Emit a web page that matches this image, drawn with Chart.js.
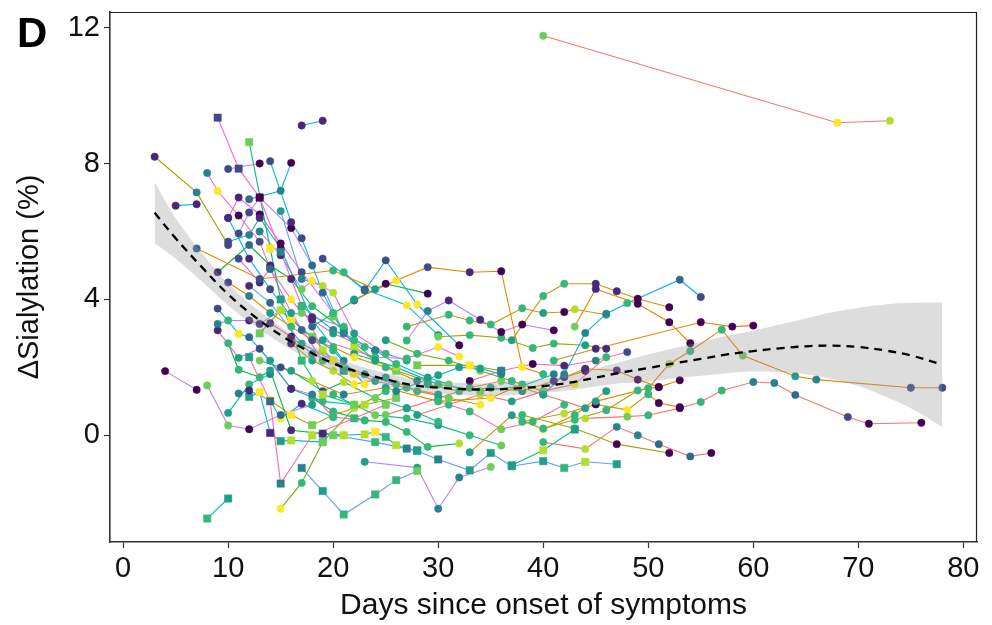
<!DOCTYPE html>
<html><head><meta charset="utf-8">
<script src="https://cdn.jsdelivr.net/npm/chart.js@4.4.1/dist/chart.umd.min.js"></script>
<style>html,body{margin:0;padding:0;background:#fff;}#wrap{width:992px;height:625px;}</style>
</head><body><div id="wrap"><canvas id="c" width="992" height="625"></canvas></div>
<script>
// ---------- DATA ----------
const xTicks = [0, 10, 20, 30, 40, 50, 60, 70, 80];
const yTicks = [0, 4, 8, 12];
const xTitle = 'Days since onset of symptoms';
const yTitle = 'ΔSialylation (%)';
const panelLabel = 'D';

const patientDays = [
[40,68,73],[17,19],[3,7,10],[5,7],[7,13,20,24],
[9,11,13,15,17,19,21],[12,14,15,17,19,22],[14,16,17,19,21,24],[12,15,16],[8,9,11,13,14,16,19],
[10,13],[4,7],[8,10,12,15,18],[8,10],[12,14,15,18,22,25],
[17,19,21,24,26,28],[23,28,30,32,35],[15,17,19,22,25],[20,24,28,30,33,35,37,40,42,44,47],[44,48,50,53,55,57,60,62,64,69,71,76],
[45,50,52,54,57,59,64,66,75,78],[41,45,55,58,60],[40,42,44,46,48,53,55],[37,40,42,45,47,49,52],[43,45,49,52,54],
[22,26,29,33,36,38,40],[21,23,25,28,32],[27,29,31,34,36,38,41],[27,31,33,35,38,40,42,43,46],[30,33,36,39,41,44,46],
[40,44,47,49,51,54,56],[38,43,47,52],[42,44,47,49,51,53],[38,42,45,48,50,51,53],[40,43,46,49,51],
[37,40,43],[18,22,25,29],[19,23,27,30],[19,24,27,30,32],[28,33,36],
[26,30,32,34,36],[33,37,40,43,46],[30,33,36,39,42],[9,11,12,14,16,19,22],[9,10,12,13,15,18,21],
[9,11,13,16,18,20,23],[10,11,13,14,16,19,21],[11,12,14,15,17,20],[12,13,14,15,16,19],[10,12,14,17,20,23],
[10,12,13,15,18,21],[11,13,14,16,17,20,23],[13,15,17,18,20,22,25],[15,17,19,21,24,27],[10,12,14,16,18,20,22,25,28],
[14,16,18,21,24,27,30],[16,18,20,22,25,28,31,34],[13,16,19,21,24,27,30],[18,20,23,25,27,29,32],[19,21,23,24,25,26,27,28],
[17,20,22,24,26,29,31],[12,14,17,20,23,26],[15,18,21,25,30,35,38],[25,28,31,34,37,40],[22,26,30,34,38,41],
[29,32,35,38,41,44],[28,31,34,37,40,43,46],[10,12,14],[33,36,39,42,45,48],[10,11,13,15,17,20],
[11,12,13,16,18],[9,12,14,16,18,21],[13,15,16,18,20,22],[20,21,22,24,26,29],[14,16,18,20,23,26],
[20,22,24,27,30,33,36],[25,27,30,33,36,40,44]
];
const patientSialylation = [
[11.76,9.2,9.26],[9.12,9.26],[8.2,7.15,5.6],[6.76,6.8],[5.5,4.6,4.85,4.3],
[9.35,7.85,7.0,5.4,3.8,2.5,1.9],[8.63,5.5,4.0,2.2,1.2,0.9],[8.07,6.27,5.8,4.2,3.0,2.2],[6.95,7.2,8.02],[7.72,7.19,6.47,5.7,4.9,3.6,2.2],
[7.84,8.0],[1.89,1.34],[1.47,0.29,0.18,0.6,0.9],[-2.45,-1.86],[2.3,1.0,-1.42,0.0,0.5,0.9],
[-0.96,-1.64,-2.33,-1.74,-1.32,-1.05],[-0.78,-0.95,-2.16,-1.24,-0.93],[-2.16,-1.4,-0.2,0.8,1.3],[0.0,-0.2,-0.46,-0.71,-1.03,-0.52,-0.91,-0.76,-0.96,-0.78,-0.85],[0.5,0.55,0.59,0.8,0.98,1.32,1.57,1.54,1.19,0.54,0.34,0.37],
[1.0,1.39,2.1,2.48,3.11,2.35,1.74,1.64,1.4,1.4],[2.2,2.55,3.33,3.2,3.23],[1.2,1.8,3.01,3.58,3.89,4.58,4.07],[2.8,4.1,4.46,4.46,4.24,4.02,3.77],[3.2,4.31,3.87,3.33,2.71],
[4.0,4.56,4.95,4.8,4.83,2.01,1.8],[4.8,4.26,5.15,3.85,2.65],[2.79,3.66,3.97,3.4,3.04,3.26,3.09],[3.2,3.55,3.38,3.26,3.74,3.6,3.63,3.71,3.55],[2.9,2.95,2.87,2.57,2.7,2.65,2.55],
[-0.2,-0.4,0.25,0.0,-0.26,-0.62,-0.52],[0.6,0.2,-0.26,-0.52],[1.71,1.96,1.91,1.64,1.42,1.62],[0.4,0.64,0.91,0.75,1.21,0.95,0.83],[0.2,0.46,0.74,1.32,1.42],
[-0.88,-0.44,0.17],[3.2,3.97,4.46,4.17],[5.2,4.3,3.83,2.95],[2.8,2.3,2.26,2.6,2.32],[2.06,2.06,1.9],
[1.3,1.77,2.0,1.97,1.8],[-0.5,0.59,0.17,0.6,1.3],[1.0,0.7,0.18,0.4,0.9],[3.73,2.99,2.89,2.2,1.37,1.0,0.9],[3.28,3.38,3.38,3.28,3.68,3.48,3.2],
[3.09,2.28,2.55,1.37,1.2,0.54,0.44],[2.71,1.93,1.71,1.91,0.15,0.05,0.0],[1.23,1.32,1.03,0.49,0.93,0.54],[1.13,1.27,0.07,-0.17,-0.15,-0.2],[6.4,5.2,4.3,3.1,2.5,1.5],
[5.7,5.9,6.4,5.5,3.4,2.2],[5.2,4.5,4.9,4.0,3.6,3.0,2.6],[6.0,5.3,4.3,4.55,4.2,3.0,2.4],[6.6,4.6,4.4,3.0,2.5,2.2],[4.5,4.1,3.6,3.2,2.8,2.6,2.3,2.0,1.6],
[3.3,2.9,2.4,2.0,1.6,1.4,1.2],[2.7,2.2,1.9,1.5,1.7,1.3,1.1,0.9],[2.2,1.9,1.3,1.57,1.1,0.8,0.4],[1.1,0.7,0.44,0.39,0.1,-0.34,-0.24],[0.05,0.0,0.03,0.1,-0.05,-0.29,-0.39,-0.44],
[3.8,3.1,2.8,2.5,2.1,1.7,1.5],[4.4,3.9,2.7,2.2,1.8,1.5],[2.0,1.6,1.2,1.4,1.0,1.1,1.5],[2.8,2.4,2.2,1.9,1.6,1.3],[2.4,2.0,1.5,1.3,1.45,1.8],
[1.5,1.3,1.4,1.3,1.6,1.9],[0.6,0.9,1.2,1.0,1.3,1.5,2.3],[0.66,1.5,1.8],[1.6,1.9,2.1,2.05,2.2,2.45],[6.4,7.0,6.5,5.65,4.8,3.6],
[5.94,6.56,7.0,6.1,5.0],[4.8,5.6,5.0,4.6,3.8,3.1],[3.0,3.68,3.4,2.9,2.2,1.8],[3.5,3.1,2.6,2.2,1.9,1.6],[1.03,0.6,0.3,0.6,0.9,1.1],
[1.2,0.9,0.6,0.5,0.3,0.0,-0.3],[0.6,0.8,1.1,1.4,1.6,1.2,0.8]
];
// mapped colour level of each measurement (0 = low ... 9 = high)
const patientLevel = [
[7,9,8],[1,1],[1,4,2],[1,1],[3,2,6,5],
[2,2,0,4,6,8,5],[7,9,5,6,8,7],[2,1,2,3,4,5],[3,4,0],[4,9,0,2,3,5,6],
[2,0],[0,0],[7,7,0,3,5],[6,5],[5,3,4,8,6,7],
[4,5,6,6,6,7],[5,5,4,4,7],[9,6,7,8,6],[7,6,5,4,5,5,5,5,6,8,5],[8,7,6,0,6,6,4,4,3,2,0,0],
[5,6,8,6,6,7,5,4,2,2],[6,1,0,0,0],[5,4,4,4,6,3,2],[5,6,6,1,1,0,0],[7,1,0,0,0],
[5,9,2,1,0,9,6],[6,3,2,9,0],[6,4,1,1,0,0,0],[6,6,6,6,6,5,0,8,6],[7,6,6,6,6,5,1],
[6,8,4,4,3,3,0],[6,5,0,0],[1,1,1,0,0,0],[6,8,0,9,6,0,0],[6,6,6,6,0],
[5,8,5],[3,3,0,0],[2,3,9,4],[5,6,6,9,9],[7,9,4],
[4,5,5,5,4],[5,5,9,6,5],[6,6,7,6,6],[2,9,3,5,1,6,6],[4,6,1,1,8,1,6],
[1,5,2,1,4,6,6],[6,6,6,5,1,1,8],[4,1,9,9,1,6],[5,9,1,5,8,6],[1,1,2,3,6,9],
[2,4,1,0,1,4],[2,1,1,9,7,5,6],[4,1,7,9,8,5,6],[5,4,8,6,4,5],[2,4,5,6,2,6,9,6,4],
[1,0,5,7,5,6,5],[0,5,8,9,5,6,7,9],[7,5,2,8,7,5,6],[6,6,6,6,6,6,8],[3,8,8,9,6,8,4,5],
[1,4,6,3,6,5,7],[1,3,5,9,5,6],[2,8,4,5,6,9,6],[5,6,6,7,6,7],[5,8,6,7,9,4],
[5,6,5,4,1,0],[5,6,8,5,4,9,6],[5,6,4],[0,2,0,1,4,2],[1,1,0,0,2,6],
[2,2,0,0,3],[1,3,1,1,6,4],[7,8,9,7,8,9],[7,6,8,8,7,6],[9,9,7,8,8,7],
[6,6,7,6,5,6,7],[7,6,5,6,7,4,5]
];
// marker group of each patient (1 = square group)
const patientGroup = [
0,0,0,0,0, 1,1,0,0,0, 0,0,0,1,1, 1,0,0,1,0,
0,0,0,0,0, 0,0,0,0,0, 0,0,0,0,0, 1,0,0,0,1,
0,0,0,0,0, 0,0,0,1,0, 0,0,0,0,0, 0,0,0,0,1,
0,0,0,0,0, 0,0,0,0,0, 0,0,1,1,1, 0,0
];
// loess fit with confidence band
const smoothDays  = [3,5,7.5,10,12.5,15,17.5,20,22.5,25,27.5,30,32.5,35,37.5,40,42.5,45,47.5,50,52.5,55,57.5,60,62.5,65,67.5,70,72.5,75,78];
const smoothFit   = [6.55,5.8,4.95,4.15,3.5,2.95,2.5,2.12,1.85,1.65,1.48,1.4,1.36,1.35,1.38,1.45,1.55,1.7,1.85,1.98,2.12,2.25,2.38,2.48,2.56,2.62,2.64,2.6,2.5,2.35,2.08];
const smoothLower = [5.65,5.2,4.53,3.83,3.23,2.71,2.28,1.92,1.66,1.47,1.30,1.22,1.18,1.17,1.19,1.25,1.33,1.44,1.53,1.58,1.67,1.75,1.83,1.88,1.86,1.80,1.66,1.45,1.15,0.80,0.25];
const smoothUpper = [7.45,6.4,5.37,4.47,3.77,3.19,2.72,2.32,2.04,1.83,1.66,1.58,1.54,1.53,1.57,1.65,1.77,1.96,2.17,2.38,2.57,2.75,2.93,3.08,3.26,3.44,3.62,3.75,3.85,3.9,3.91];

// ---------- STYLE ----------
const viridis = ['#440154','#482878','#3E4A89','#31688E','#26828E','#1F9E89','#35B779','#6DCD59','#B4DE2C','#FDE725'];
const hues = ['#F8766D','#E58700','#C99800','#A3A500','#6BB100','#00BA38','#00BF7D','#00C0AF','#00BCD8','#00B0F6','#619CFF','#B983FF','#E76BF3','#FD61D1','#FF67A4'];
const seriesHue = [
0,9,3,9,1, 13,6,8,8,13, 12,11,11,7,14, 10,11,4,10,0,
1,1,9,2,1, 1,9,11,2,3, 0,3,1,2,3, 6,5,8,12,3,
8,1,14,7,11, 13,5,9,8,9, 7,13,12,10,1, 0,2,6,5,9,
8,10,1,4,7, 2,0,7,14,12, 11,5,4,3,2, 6,0
];
const FONT = '"Liberation Sans", Arial, sans-serif';

const xy = (ds, vs) => ds.map((x, j) => ({x: x, y: vs[j]}));

const lineSets = patientDays.map((d, i) => ({
  data: xy(d, patientSialylation[i]),
  borderColor: hues[seriesHue[i] % hues.length],
  borderWidth: 1.1, pointRadius: 0, fill: false, tension: 0, order: 30
}));
const pointSets = patientDays.map((d, i) => ({
  data: xy(d, patientSialylation[i]),
  showLine: false,
  pointStyle: patientGroup[i] ? 'rect' : 'circle',
  pointRadius: patientGroup[i] ? 5.2 : 3.7,
  pointBackgroundColor: patientLevel[i].map(t => viridis[t]),
  pointBorderColor: patientLevel[i].map(t => viridis[t]),
  pointBorderWidth: 0.5, order: 20
}));
const ribbonSets = [
  {data: xy(smoothDays, smoothUpper), borderWidth: 0, borderColor: 'rgba(0,0,0,0)', pointRadius: 0,
   fill: '+1', backgroundColor: 'rgba(150,150,150,0.32)', tension: 0.4, order: 10},
  {data: xy(smoothDays, smoothLower), borderWidth: 0, borderColor: 'rgba(0,0,0,0)', pointRadius: 0,
   fill: false, tension: 0.4, order: 10}
];
const fitSet = {data: xy(smoothDays, smoothFit), borderColor: '#000', borderWidth: 2.3, borderDash: [8, 6],
  pointRadius: 0, fill: false, tension: 0.4, order: 0};

const deco = {
  id: 'deco',
  beforeDraw(chart) {
    const c = chart.ctx; c.save(); c.fillStyle = '#fff'; c.fillRect(0, 0, chart.width, chart.height); c.restore();
  },
  afterDraw(chart) {
    const c = chart.ctx, a = chart.chartArea;
    c.save();
    c.strokeStyle = '#222'; c.lineWidth = 1.2;
    c.beginPath(); c.moveTo(a.left, a.top + 0.5); c.lineTo(a.right - 0.5, a.top + 0.5); c.lineTo(a.right - 0.5, a.bottom); c.stroke();
    c.fillStyle = '#000'; c.font = 'bold 42px ' + FONT; c.textBaseline = 'alphabetic';
    c.fillText(panelLabel, 17, 47);
    c.restore();
  }
};

new Chart(document.getElementById('c'), {
  type: 'line',
  data: {datasets: [...lineSets, ...pointSets, ...ribbonSets, fitSet]},
  options: {
    responsive: false, animation: false, devicePixelRatio: 1, events: [],
    layout: {padding: {left: 0, right: 15, top: 12, bottom: 0}},
    plugins: {legend: {display: false}, tooltip: {enabled: false}},
    scales: {
      x: {
        type: 'linear', min: -1.25, max: 81.3,
        afterBuildTicks: s => { s.ticks = xTicks.map(v => ({value: v})); },
        afterFit: s => { s.height = 83; s.paddingLeft = 0; s.paddingRight = 0; },
        grid: {drawOnChartArea: false, drawTicks: true, tickLength: 6, tickColor: '#333', tickWidth: 1.2},
        border: {display: true, color: '#333', width: 1.6},
        ticks: {autoSkip: false, maxRotation: 0, padding: 4, color: '#111', font: {family: FONT, size: 29}},
        title: {display: true, text: xTitle, color: '#111', font: {family: FONT, size: 30}, padding: {top: 0, bottom: 1}}
      },
      y: {
        type: 'linear', min: -3.14, max: 12.46,
        afterBuildTicks: s => { s.ticks = yTicks.map(v => ({value: v})); },
        afterFit: s => { s.width = 110; s.paddingTop = 0; s.paddingBottom = 0; },
        grid: {drawOnChartArea: false, drawTicks: true, tickLength: 6, tickColor: '#333', tickWidth: 1.2},
        border: {display: true, color: '#333', width: 1.6},
        ticks: {autoSkip: false, padding: 4, color: '#111', font: {family: FONT, size: 29}},
        title: {display: true, text: yTitle, color: '#111', font: {family: FONT, size: 29}, padding: {top: 13, bottom: 0}}
      }
    }
  },
  plugins: [deco]
});
</script></body></html>
